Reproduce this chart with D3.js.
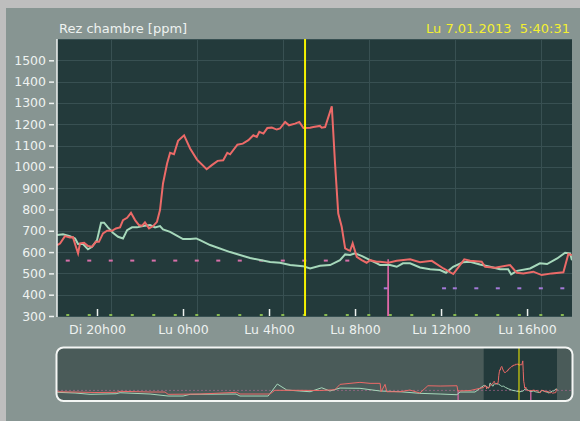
<!DOCTYPE html>
<html>
<head>
  <meta charset="UTF-8">
  <style>
    html, body { margin: 0; padding: 0; background: #bebebe; }
    svg { display: block; }
    text { font-family: "DejaVu Sans", sans-serif; }
  </style>
</head>
<body>
<svg></svg>
<script src="https://d3js.org/d3.v7.min.js"></script>
<script>
// all times are hours counted from Di 6.01.2013 0h00
var redData = [
  [18.15,633],[18.28,640],[18.51,675],[18.74,669],[18.88,670],[19.02,625],[19.12,594],[19.21,641],
  [19.40,644],[19.58,628],[19.77,625],[19.95,648],[20.09,648],[20.28,688],[20.47,700],[20.70,700],
  [20.88,711],[21.07,716],[21.21,750],[21.40,761],[21.58,784],[21.77,750],[21.95,727],[22.09,723],
  [22.23,739],[22.42,711],[22.61,722],[22.79,742],[22.93,797],[23.07,922],[23.26,1016],[23.40,1066],
  [23.58,1059],[23.77,1122],[24.05,1148],[24.33,1086],[24.65,1034],[25.10,989],[25.34,1008],[25.61,1028],
  [25.87,1031],[26.06,1066],[26.19,1059],[26.53,1104],[26.78,1109],[27.04,1125],[27.27,1148],[27.43,1140],
  [27.55,1164],[27.74,1156],[27.92,1182],[28.13,1184],[28.36,1175],[28.51,1180],[28.75,1211],[28.93,1195],
  [29.21,1203],[29.41,1211],[29.60,1182],[29.91,1184],[30.06,1187],[30.37,1192],[30.45,1184],[30.61,1187],
  [30.92,1284],[31.07,1016],[31.22,781],[31.38,719],[31.54,617],[31.69,609],[31.77,606],[31.89,641],
  [32.08,578],[32.31,562],[32.54,550],[32.70,562],[33.01,555],[33.16,555],[33.55,550],[33.94,559],
  [34.56,566],[35.02,552],[35.57,559],[36.11,523],[36.57,497],[37.08,566],[37.35,559],[37.89,555],
  [38.05,531],[38.51,527],[39.21,539],[39.52,503],[39.83,500],[40.29,508],[40.68,492],[41.15,500],
  [41.69,505],[41.92,591],[42.08,586]
];
var greenData = [
  [18.15,680],[18.42,684],[18.74,675],[18.98,664],[19.12,638],[19.35,638],[19.58,613],[19.77,625],
  [20.00,656],[20.19,738],[20.33,738],[20.51,716],[20.74,691],[20.98,672],[21.21,664],[21.40,703],
  [21.63,716],[21.86,716],[22.14,722],[22.47,727],[22.70,716],[22.93,722],[23.07,706],[23.40,695],
  [23.67,680],[24.00,661],[24.33,661],[24.61,664],[24.79,656],[25.26,633],[26.19,600],[27.12,572],
  [28.05,553],[28.51,550],[28.98,539],[29.58,534],[29.91,523],[30.37,536],[30.84,539],[31.30,562],
  [31.54,589],[31.77,586],[32.00,594],[32.33,581],[32.70,562],[33.02,547],[33.16,539],[33.63,539],
  [33.94,531],[34.23,547],[34.56,547],[35.02,528],[35.49,519],[35.95,516],[36.23,503],[36.56,531],
  [37.02,552],[37.35,555],[37.81,542],[38.28,531],[38.74,519],[39.12,519],[39.26,495],[39.53,512],
  [40.14,523],[40.60,547],[40.93,544],[41.40,570],[41.77,597],[42.00,594],[42.09,562]
];
// older week shown only in the overview strip
var histRed = [
  [-121.2,527],[-115.4,520],[-108.9,508],[-101.8,513],[-100.7,537],[-90.9,520],[-86.0,520],[-85.0,464],
  [-74.6,471],[-62.6,513],[-61.5,471],[-51.7,471],[-50.1,562],[-41.9,562],[-35.4,557],[-30.5,576],
  [-28.8,708],[-22.3,757],[-19.0,733],[-15.7,733],[-15.4,527],[-14.1,708],[-13.5,527],[-9.2,527],
  [-6.0,569],[-2.7,496],[-0.1,674],[3.9,667],[9.4,674],[9.7,545],[13.7,557]
];
var histGreen = [
  [-121.2,513],[-115.4,496],[-110.5,464],[-102.0,478],[-100.7,503],[-90.9,471],[-85.0,422],[-80.1,422],
  [-77.8,464],[-62.8,471],[-61.5,422],[-52.3,422],[-49.3,716],[-46.2,569],[-41.9,545],[-38.6,527],
  [-34.8,625],[-32.1,545],[-28.8,618],[-22.3,611],[-15.7,545],[-9.2,527],[-2.7,488],[3.9,471],
  [9.4,454],[10.4,520],[15.3,520]
];
var pinkSetHours = [18.64,19.64,20.64,21.64,22.64,23.64,24.64,25.64,26.64,27.64,28.64,29.64,30.64,31.64];
var pinkSetPpm = 560;
var purpleSetHours = [33.43,36.14,36.64,37.64,38.64,39.64,40.64,41.64];
var purpleSetPpm = 430;
var pinkSpike = [[33.53,300],[33.54,566],[33.55,300]];
var histSpike = [[9.77,300],[9.78,560],[9.79,300]];
var sampleHours = d3.range(18.64, 42, 1);
var gridHours = [20.64,24.64,28.64,32.64,36.64,40.64];
var xTickHours = [20,24,28,32,36,40];
var yTicks = [300,400,500,600,700,800,900,1000,1100,1200,1300,1400,1500];
var dayNames = ["Di","Lu","Ma","Me","Je","Ve","Sa"];
var cursorHour = 29.675;
var viewStart = 18.14, viewEnd = 42.09;
var navStart = -121.3, navEnd = 47.0;
var titleText = "Rez chambre [ppm]";
var dateText = "Lu 7.01.2013  5:40:31";

let width = 580, height = 421;
let base = new Date(2013, 0, 6, 0, 0, 0).getTime();
function toDate(h) { return new Date(base + h * 3600000); }

let svg = d3.select("svg").attr("width", width).attr("height", height);

svg.append("rect").attr("x", 6).attr("y", 8).attr("width", width - 6).attr("height", height - 8)
  .attr("fill", "#879592");

let x = d3.scaleTime().domain([toDate(viewStart), toDate(viewEnd)]).range([57, 572]);
let y = d3.scaleLinear().domain([300, 1600]).range([316, 39]);

let plotBg = "#233a3b";
svg.append("rect").attr("x", 57).attr("y", 39).attr("width", 515).attr("height", 277).attr("fill", plotBg);

svg.append("clipPath").attr("id", "plotclip")
  .append("rect").attr("x", 57).attr("y", 39).attr("width", 515).attr("height", 277);

// grid
let grid = svg.append("g").attr("stroke", "#385052").attr("stroke-width", 1);
grid.selectAll("line.h").data(yTicks.concat([1600])).enter().append("line")
  .attr("x1", 57).attr("x2", 572)
  .attr("y1", d => Math.round(y(d)) + 0.5).attr("y2", d => Math.round(y(d)) + 0.5);
grid.selectAll("line.v").data(gridHours).enter().append("line")
  .attr("y1", 39).attr("y2", 316)
  .attr("x1", d => Math.round(x(toDate(d))) + 0.5).attr("x2", d => Math.round(x(toDate(d))) + 0.5);

let plot = svg.append("g").attr("clip-path", "url(#plotclip)");

// set points (short dashes)
plot.selectAll("rect.pink").data(pinkSetHours).enter().append("rect")
  .attr("x", d => x(toDate(d)) - 2).attr("y", y(pinkSetPpm) - 1)
  .attr("width", 4).attr("height", 2).attr("fill", "#d870aa");
plot.selectAll("rect.purple").data(purpleSetHours).enter().append("rect")
  .attr("x", d => x(toDate(d)) - 2).attr("y", y(purpleSetPpm) - 1)
  .attr("width", 4).attr("height", 2).attr("fill", "#a47ad8");

// sample dots along the bottom
plot.selectAll("rect.dot").data(sampleHours).enter().append("rect")
  .attr("x", d => x(toDate(d)) - 1.5).attr("y", 314)
  .attr("width", 3).attr("height", 2).attr("fill", "#86b850");

let line = d3.line().x(d => x(toDate(d[0]))).y(d => y(d[1]));

plot.append("path").datum(pinkSpike).attr("d", line)
  .attr("fill", "none").attr("stroke", "#e068a8").attr("stroke-width", 1.5);
plot.append("path").datum(greenData).attr("d", line)
  .attr("fill", "none").attr("stroke", "#a6d8bb").attr("stroke-width", 2);
plot.append("path").datum(redData).attr("d", line)
  .attr("fill", "none").attr("stroke", "#ec6a68").attr("stroke-width", 2);

// cursor
plot.append("line")
  .attr("x1", x(toDate(cursorHour))).attr("x2", x(toDate(cursorHour)))
  .attr("y1", 39).attr("y2", 316)
  .attr("stroke", "#f4f000").attr("stroke-width", 2);

// axes
let yAxis = svg.append("g").attr("transform", "translate(54,0)")
  .call(d3.axisLeft(y).tickValues(yTicks).tickSize(5).tickSizeOuter(0).tickPadding(3).tickFormat(d3.format("d")));
yAxis.select(".domain").remove();
yAxis.selectAll("line").attr("stroke", "#eef2f0").attr("stroke-width", 1.5);
yAxis.selectAll("text").attr("fill", "#eef2f0").style("font-size", "12.5px");

svg.append("line").attr("x1", 57).attr("x2", 57).attr("y1", 39).attr("y2", 317)
  .attr("stroke", "#eef2f0").attr("stroke-width", 1.5);

let xAxis = svg.append("g").attr("transform", "translate(0,316)")
  .call(d3.axisBottom(x).tickValues(xTickHours.map(toDate)).tickSize(-7).tickSizeOuter(0).tickPadding(9)
    .tickFormat(d => dayNames[d.getDay()] + " " + d.getHours() + "h00"));
xAxis.select(".domain").remove();
xAxis.selectAll("line").attr("stroke", "#eef2f0").attr("stroke-width", 1.5);
xAxis.selectAll("text").attr("fill", "#eef2f0").style("font-size", "12.5px");

// titles
svg.append("text").attr("x", 59).attr("y", 33).text(titleText)
  .attr("fill", "#eef2f0").style("font-size", "13px");
svg.append("text").attr("x", 570).attr("y", 33).attr("text-anchor", "end").text(dateText)
  .style("white-space", "pre")
  .attr("fill", "#f4f030").style("font-size", "13px");

// overview strip
let nx = d3.scaleTime().domain([toDate(navStart), toDate(navEnd)]).range([57, 572]);
let ny = d3.scaleLinear().domain([300, 1600]).range([401, 348]);
let nline = d3.line().x(d => nx(toDate(d[0]))).y(d => ny(d[1]));

svg.append("clipPath").attr("id", "navclip")
  .append("rect").attr("x", 56.5).attr("y", 347.5).attr("width", 516).attr("height", 53.5).attr("rx", 7);
let nav = svg.append("g").attr("clip-path", "url(#navclip)");
nav.append("rect").attr("x", 56).attr("y", 347).attr("width", 518).attr("height", 55).attr("fill", "#4a5b59");
nav.append("rect").attr("x", nx(toDate(viewStart))).attr("y", 347)
  .attr("width", nx(toDate(viewEnd)) - nx(toDate(viewStart))).attr("height", 55).attr("fill", plotBg);

nav.append("line").attr("x1", 57).attr("x2", 572).attr("y1", ny(pinkSetPpm)).attr("y2", ny(pinkSetPpm))
  .attr("stroke", "#b86a98").attr("stroke-width", 1).attr("stroke-dasharray", "2,2").attr("opacity", 0.6);
nav.append("path").datum(histSpike).attr("d", nline).attr("fill", "none").attr("stroke", "#e068a8").attr("stroke-width", 1.2);
nav.append("path").datum(pinkSpike).attr("d", nline).attr("fill", "none").attr("stroke", "#e068a8").attr("stroke-width", 1.2);
nav.append("path").datum(histGreen.concat(greenData)).attr("d", nline)
  .attr("fill", "none").attr("stroke", "#a6d8bb").attr("stroke-width", 1);
nav.append("path").datum(histRed.concat(redData)).attr("d", nline)
  .attr("fill", "none").attr("stroke", "#ec6a68").attr("stroke-width", 1);
nav.append("line").attr("x1", nx(toDate(cursorHour))).attr("x2", nx(toDate(cursorHour)))
  .attr("y1", 347).attr("y2", 401).attr("stroke", "#f4f000").attr("stroke-width", 1);

svg.append("rect").attr("x", 56.5).attr("y", 347.5).attr("width", 516).attr("height", 53.5).attr("rx", 7)
  .attr("fill", "none").attr("stroke", "#f4f6f4").attr("stroke-width", 2);
</script>
</body>
</html>
